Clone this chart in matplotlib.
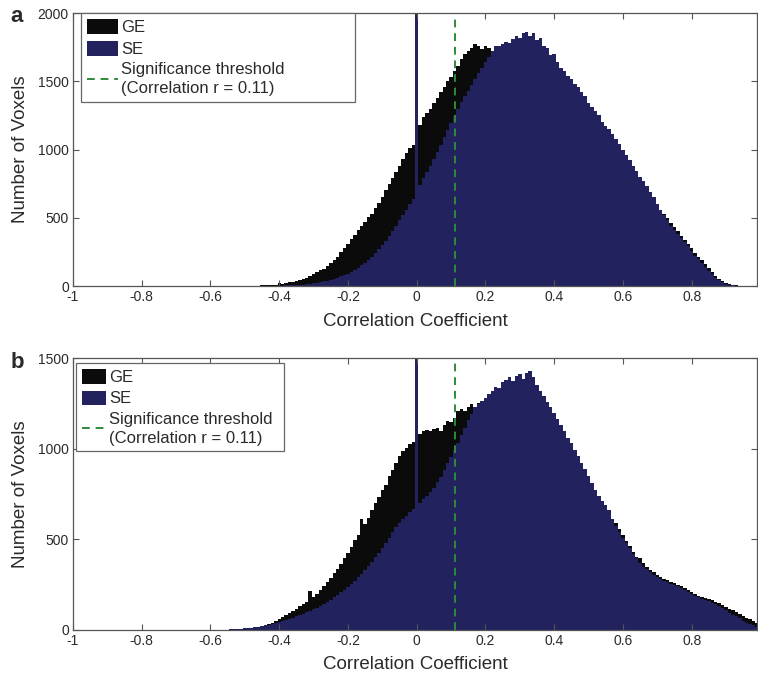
import numpy as np
import matplotlib
matplotlib.use("Agg")
import matplotlib.pyplot as plt

plt.rcParams['font.family'] = ['Liberation Sans', 'DejaVu Sans']

# bin centres of the histograms (width 0.01), from -0.55 to 0.99
bin_centers = np.round(np.arange(-0.55, 0.995, 0.01), 2)

# panel a: gradient echo (GE) and spin echo (SE) voxel counts per bin
ge_a = [0, 0, 0, 0, 0, 1, 1, 2, 2, 3,
        4, 6, 8, 9, 11, 22, 14, 20, 26, 31,
        38, 46, 55, 62, 75, 90, 102, 115, 128, 148,
        165, 192, 215, 248, 280, 310, 345, 372, 410, 438,
        470, 505, 530, 575, 610, 655, 700, 745, 790, 835,
        880, 930, 975, 1010, 1035, 1050, 1180, 1240, 1270, 1300,
        1340, 1380, 1420, 1455, 1500, 1530, 1575, 1610, 1665, 1700,
        1725, 1745, 1770, 1760, 1735, 1755, 1740, 1725, 1745, 1740,
        1725, 1740, 1730, 1760, 1785, 1770, 1800, 1810, 1785, 1800,
        1750, 1765, 1710, 1695, 1640, 1650, 1590, 1550, 1525, 1490,
        1465, 1430, 1410, 1370, 1345, 1290, 1260, 1230, 1200, 1150,
        1125, 1100, 1060, 1025, 990, 950, 910, 870, 830, 790,
        770, 740, 705, 670, 630, 590, 555, 530, 495, 460,
        430, 400, 370, 340, 310, 275, 240, 215, 190, 160,
        130, 100, 75, 55, 38, 24, 14, 8, 4, 2,
        1, 0, 0, 0, 0]
se_a = [0, 0, 0, 0, 0, 0, 0, 0, 1, 1,
        1, 1, 2, 2, 2, 3, 3, 4, 5, 6,
        8, 9, 11, 13, 16, 20, 24, 29, 34, 40,
        45, 52, 60, 70, 80, 90, 105, 118, 135, 152,
        170, 190, 215, 240, 270, 300, 330, 365, 400, 440,
        480, 520, 560, 600, 640, 5000, 740, 790, 835, 880,
        930, 980, 1035, 1090, 1140, 1193, 1245, 1300, 1345, 1390,
        1430, 1470, 1515, 1560, 1600, 1640, 1680, 1720, 1755, 1760,
        1775, 1790, 1780, 1810, 1835, 1820, 1850, 1862, 1835, 1850,
        1800, 1815, 1760, 1745, 1690, 1700, 1640, 1600, 1575, 1540,
        1515, 1480, 1460, 1420, 1395, 1340, 1310, 1280, 1250, 1200,
        1175, 1150, 1110, 1075, 1040, 1000, 960, 920, 880, 840,
        800, 770, 730, 690, 650, 600, 560, 520, 480, 440,
        410, 380, 350, 320, 290, 255, 220, 195, 170, 140,
        110, 85, 62, 42, 28, 16, 9, 5, 2, 1,
        0, 0, 0, 0, 0]

# panel b
ge_b = [2, 2, 3, 4, 5, 6, 8, 10, 13, 16,
        22, 27, 34, 41, 50, 60, 70, 82, 92, 105,
        118, 130, 142, 155, 215, 180, 200, 222, 240, 262,
        285, 312, 335, 365, 395, 425, 460, 495, 525, 610,
        585, 615, 660, 700, 735, 770, 800, 850, 880, 920,
        960, 985, 1005, 1025, 1035, 1040, 1080, 1100, 1105, 1095,
        1110, 1115, 1100, 1130, 1150, 1145, 1170, 1210, 1220, 1205,
        1230, 1245, 1225, 1250, 1255, 1240, 1250, 1255, 1260, 1280,
        1310, 1320, 1335, 1315, 1340, 1350, 1325, 1360, 1370, 1335,
        1290, 1260, 1230, 1200, 1170, 1135, 1105, 1070, 1040, 1000,
        970, 930, 900, 860, 830, 790, 750, 710, 680, 650,
        660, 640, 600, 590, 555, 525, 492, 462, 432, 405,
        395, 372, 348, 332, 318, 302, 292, 282, 273, 265,
        258, 250, 243, 232, 222, 210, 200, 190, 183, 176,
        170, 164, 156, 148, 138, 128, 118, 108, 98, 88,
        78, 68, 58, 48, 40]
se_b = [2, 3, 4, 5, 7, 9, 11, 13, 16, 19,
        22, 26, 30, 35, 40, 45, 50, 55, 62, 68,
        75, 82, 90, 98, 106, 115, 124, 134, 145, 157,
        168, 180, 193, 207, 222, 238, 255, 272, 290, 310,
        330, 352, 375, 400, 425, 452, 480, 510, 540, 570,
        590, 610, 630, 650, 670, 5000, 700, 720, 740, 760,
        785, 815, 845, 880, 920, 955, 990, 1030, 1075, 1115,
        1160, 1190, 1230, 1245, 1265, 1280, 1300, 1320, 1340, 1335,
        1370, 1380, 1395, 1375, 1400, 1410, 1385, 1420, 1430, 1395,
        1350, 1320, 1290, 1260, 1230, 1195, 1165, 1130, 1100, 1060,
        1030, 990, 960, 920, 890, 850, 810, 770, 740, 710,
        690, 660, 610, 575, 540, 510, 480, 450, 420, 395,
        370, 350, 335, 320, 305, 290, 280, 270, 262, 255,
        248, 240, 232, 222, 212, 200, 190, 180, 172, 165,
        158, 150, 142, 132, 122, 110, 96, 85, 75, 65,
        52, 40, 32, 25, 18]

threshold = 0.11
ymax_a, yticks_a = 2000, [0, 500, 1000, 1500, 2000]
ymax_b, yticks_b = 1500, [0, 500, 1000, 1500]
xticks = [-1, -0.8, -0.6, -0.4, -0.2, 0, 0.2, 0.4, 0.6, 0.8]
xtick_labels = ['-1', '-0.8', '-0.6', '-0.4', '-0.2', '0', '0.2', '0.4', '0.6', '0.8']

GE_COLOR = '#0b0b0b'
SE_COLOR = '#22225e'
THR_COLOR = '#2e8b3a'
TEXT_COLOR = '#2a2a2a'

edges = np.round(np.append(bin_centers - 0.005, bin_centers[-1] + 0.005), 3)

fig = plt.figure(figsize=(7.58, 6.81), dpi=100)
ax_a = fig.add_axes([0.0963, 0.580, 0.9024, 0.4009])
ax_b = fig.add_axes([0.0963, 0.0749, 0.9024, 0.3994])


def draw_panel(ax, ge, se, ymax, yticks, leg_box, handle_len, handle_h):
    ax.stairs(ge, edges, fill=True, color=GE_COLOR, lw=0, label='GE')
    ax.stairs(se, edges, fill=True, color=SE_COLOR, lw=0, label='SE')
    ax.axvline(threshold, color=THR_COLOR, ls=(0, (4, 3)), lw=1.4,
               label='Significance threshold\n(Correlation r = 0.11)')
    ax.set_xlim(-1, 0.99)
    ax.set_ylim(0, ymax)
    ax.set_xticks(xticks)
    ax.set_xticklabels(xtick_labels)
    ax.set_yticks(yticks)
    ax.tick_params(direction='in', top=True, right=True, length=4,
                   width=0.8, color='#555555', labelsize=10,
                   labelcolor=TEXT_COLOR, pad=3)
    for sp in ax.spines.values():
        sp.set_color('#555555')
        sp.set_linewidth(0.9)
    ax.set_xlabel('Correlation Coefficient', fontsize=13.5, color=TEXT_COLOR,
                  labelpad=6)
    ax.set_ylabel('Number of Voxels', fontsize=13.5, color=TEXT_COLOR)
    ax.yaxis.set_label_coords(-0.064, 0.5)
    leg = ax.legend(loc='upper left', bbox_to_anchor=leg_box, mode='expand',
                    borderaxespad=0, fontsize=12, frameon=True,
                    fancybox=False, framealpha=1, edgecolor='#666666',
                    borderpad=0.35, labelspacing=0.33, handlelength=handle_len,
                    handleheight=handle_h, handletextpad=0.15)
    leg.get_frame().set_linewidth(0.9)
    for t in leg.get_texts():
        t.set_color(TEXT_COLOR)
        t.set_linespacing(1.3)


draw_panel(ax_a, ge_a, se_a, ymax_a, yticks_a, (0.0117, 0, 0.40, 0.999), 1.9, 1.0)
draw_panel(ax_b, ge_b, se_b, ymax_b, yticks_b, (0.005, 0, 0.303, 0.9805), 1.45, 0.95)

fig.text(0.014, 1 - 16 / 681, 'a', fontsize=16, fontweight='bold',
         color=TEXT_COLOR, va='center')
fig.text(0.014, 1 - 363 / 681, 'b', fontsize=16, fontweight='bold',
         color=TEXT_COLOR, va='center')

fig.savefig('out.png', dpi=100)
